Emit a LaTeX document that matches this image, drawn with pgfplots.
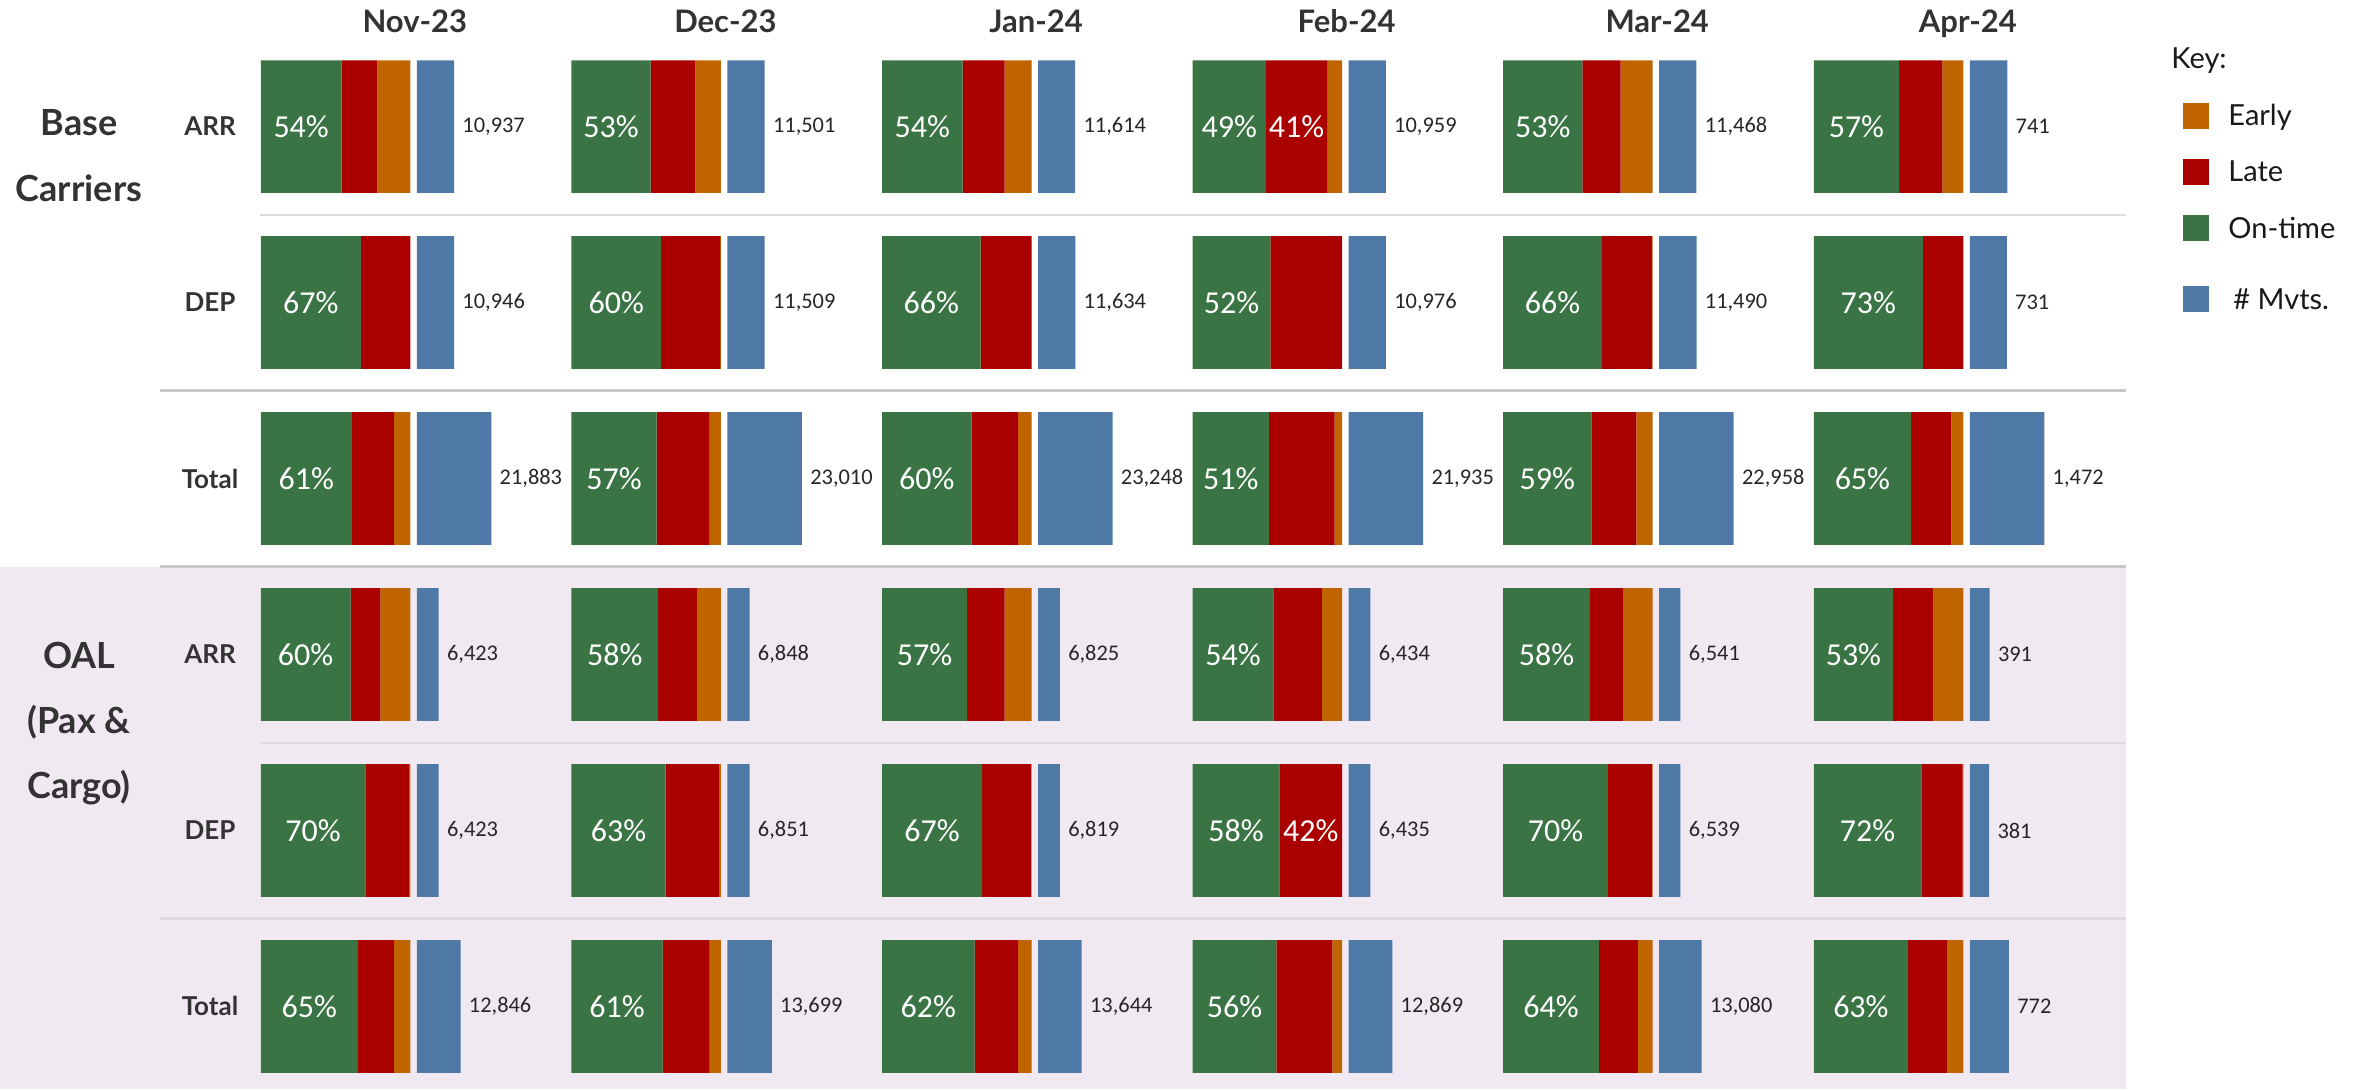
\documentclass[border=0pt]{standalone}
\usepackage{pgfplots}
\pgfplotsset{compat=1.18}
\usepackage{pgfplotstable}
\usepackage{fontspec}
\setmainfont{Lato}
\newfontfamily\numfont{Carlito}
\definecolor{cOn}{RGB}{58,116,69}
\definecolor{cLate}{RGB}{170,0,0}
\definecolor{cEarly}{RGB}{192,100,0}
\definecolor{cBlue}{RGB}{78,121,167}
\definecolor{cBg}{RGB}{241,233,242}
\definecolor{cTxt}{RGB}{51,51,51}
\definecolor{cLine}{RGB}{220,220,220}
\definecolor{cLineD}{RGB}{200,200,200}

% row: 1 Base ARR, 2 Base DEP, 3 Base Total, 4 OAL ARR, 5 OAL DEP, 6 OAL Total
\pgfplotstableread{
row on late early mv
1 54 24 22 10937
2 67 33 0 10946
3 61 28 11 21883
4 60 20 20 6423
5 70 29 1 6423
6 65 24 11 12846
}\tNov
\pgfplotstableread{
row on late early mv
1 53 30 17 11501
2 60 39.5 0.5 11509
3 57 35.5 7.5 23010
4 58 26 16 6848
5 63 36 1 6851
6 61 31.5 7.5 13699
}\tDec
\pgfplotstableread{
row on late early mv
1 54 28 18 11614
2 66 34 0 11634
3 60 31 9 23248
4 57 25 18 6825
5 67 32.5 0.5 6819
6 62 29 9 13644
}\tJan
\pgfplotstableread{
row on late early mv
1 49 41 10 10959
2 52 48 0 10976
3 51 44 5 21935
4 54 32.5 13.5 6434
5 58 42 0 6435
6 56 37.5 6.5 12869
}\tFeb
\pgfplotstableread{
row on late early mv
1 53 25.5 21.5 11468
2 66 33.5 0.5 11490
3 59 30 11 22958
4 58 22 20 6541
5 70 29.5 0.5 6539
6 64 26 10 13080
}\tMar
\pgfplotstableread{
row on late early mv
1 57 29 14 741
2 73 27 0 731
3 65 27 8 1472
4 53 27 20 391
5 72 27.5 0.5 381
6 63 26 11 772
}\tApr

\pgfplotsset{
  cell/.style={scale only axis, hide axis, clip=false, anchor=south west,
    width=74.75pt, height=510.3pt, ymin=0.6, ymax=6.4, y dir=reverse,
    /pgf/number format/assume math mode=true},
  pctlab/.style={only marks, mark=*, mark size=0pt, mark options={draw=none,fill=none},
    nodes near coords={\pgfmathprintnumber[fixed,precision=0]{\pgfplotspointmeta}\%},
    every node near coord/.append style={anchor=center, inner sep=0pt, text=white,
      font=\numfont\fontsize{16}{18}\selectfont}},
}
% #1 x of bar start (pt), #2 table, #3 column base total, #4 extra label plots
\newcommand{\monthcol}[4]{%
  \begin{axis}[cell, at={(#1pt,6.1pt)}, xmin=0, xmax=100, xbar stacked, bar width=66.35pt]
    \addplot[fill=cOn, draw=none] table[x=on,y=row]{#2};
    \addplot[fill=cLate, draw=none] table[x=late,y=row]{#2};
    \addplot[fill=cEarly, draw=none] table[x=early,y=row]{#2};
  \end{axis}
  \begin{axis}[cell, at={(#1pt+78pt,6.1pt)}, width=37.25pt, xmin=0, xmax=#3, xbar, bar width=66.35pt]
    \addplot[fill=cBlue, draw=none, nodes near coords, point meta=\thisrow{mv},
      every node near coord/.append style={anchor=west, xshift=4pt, inner sep=0pt,
        font=\numfont\fontsize{11.2}{13}\selectfont, text=black!85},
      /pgf/number format/.cd, fixed, precision=0, 1000 sep={,}] table[x=mv,y=row]{#2};
  \end{axis}
  \begin{axis}[cell, at={(#1pt,6.1pt)}, xmin=0, xmax=100]
    \addplot[pctlab, point meta=\thisrow{on}] table[x expr=\thisrow{on}/2, y=row]{#2};
    #4
  \end{axis}
}

\begin{document}
\begin{tikzpicture}
\useasboundingbox (0,0) rectangle (1182pt,544.5pt);
% shaded OAL block
\fill[cBg] (0pt,0pt) rectangle (1063pt,261.2pt);
% separators
\draw[cLine, line width=1pt] (130pt,437.2pt) -- (1063pt,437.2pt);
\draw[cLineD, line width=1.5pt] (80pt,349.2pt) -- (1063pt,349.2pt);
\draw[cLineD, line width=1.5pt] (80pt,261.2pt) -- (1063pt,261.2pt);
\draw[cLine, line width=1pt] (130pt,173.2pt) -- (1063pt,173.2pt);
\draw[cLine, line width=1.2pt] (80pt,85.2pt) -- (1063pt,85.2pt);

\monthcol{130.4}{\tNov}{21883}{}
\monthcol{285.7}{\tDec}{23010}{}
\monthcol{441.0}{\tJan}{23248}{}
\monthcol{596.3}{\tFeb}{21935}{%
  \addplot[pctlab, point meta=\thisrow{late}, restrict y to domain=0.5:1.5]
    table[x expr=\thisrow{on}+\thisrow{late}/2, y=row]{\tFeb};
  \addplot[pctlab, point meta=\thisrow{late}, restrict y to domain=4.5:5.5]
    table[x expr=\thisrow{on}+\thisrow{late}/2, y=row]{\tFeb};}
\monthcol{751.6}{\tMar}{22958}{}
\monthcol{906.9}{\tApr}{1472}{}

% month headers
\foreach \m/\t in {0/Nov-23,1/Dec-23,2/Jan-24,3/Feb-24,4/Mar-24,5/Apr-24}{
  \node[anchor=base, inner sep=0pt, text=cTxt, font=\bfseries\fontsize{15.5}{18}\selectfont]
    at ({207.4pt+155.3pt*\m},528pt) {\t};
}
% row labels
\foreach \y/\t in {481.2/ARR,393.22/DEP,305.24/Total,217.26/ARR,129.28/DEP,41.3/Total}{
  \node[anchor=center, inner sep=0pt, text=cTxt, font=\bfseries\fontsize{13}{15}\selectfont]
    at (105pt,\y pt) {\t};
}
% group labels
\begin{scope}[every node/.style={anchor=base, inner sep=0pt, text=cTxt, font=\bfseries\fontsize{18}{21}\selectfont}]
\node at (39.5pt,476.5pt) {Base};
\node at (39.5pt,443.5pt) {Carriers};
\node at (39.5pt,210.5pt) {OAL};
\node at (39.5pt,178pt) {(Pax \&};
\node at (39.5pt,145.5pt) {Cargo)};
\end{scope}
% key
\node[anchor=base west, inner sep=0pt, text=black!90, font=\fontsize{14.5}{17}\selectfont] at (1085.5pt,510pt) {Key:};
\foreach \c/\col/\t/\dx in {486.6/cEarly/Early/0,458.6/cLate/Late/0,430.25/cOn/On-time/0,394.85/cBlue/\# Mvts./2.5}{
  \fill[\col] (1091.5pt,\c pt-6.5pt) rectangle (1104.5pt,\c pt+6.5pt);
  \node[anchor=base west, inner sep=0pt, text=black!90, font=\fontsize{14.5}{17}\selectfont]
    at (1114pt+\dx pt,\c pt-5pt) {\t};
}
\end{tikzpicture}
\end{document}
